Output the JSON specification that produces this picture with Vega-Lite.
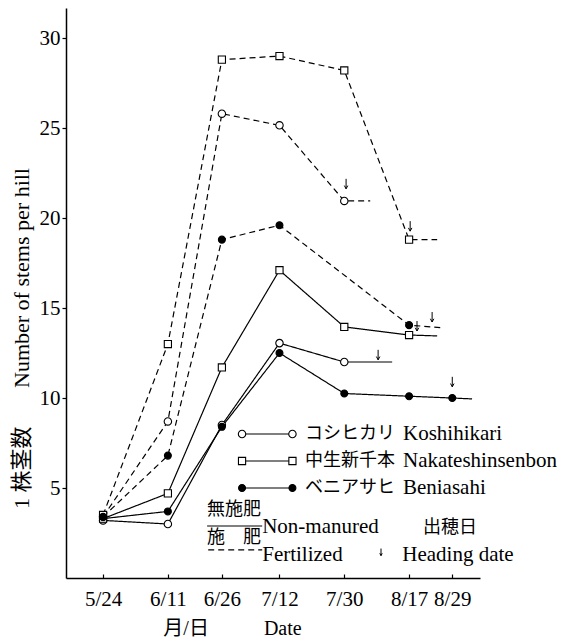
{
  "$schema": "https://vega.github.io/schema/vega-lite/v6.json",
  "autosize": "none",
  "padding": {"left": 66, "top": 8, "right": 96, "bottom": 63},
  "width": 414,
  "height": 570,
  "background": "white",
  "config": {
    "font": "Liberation Serif, Noto Sans CJK JP",
    "view": {"stroke": null},
    "axis": {
      "grid": false,
      "domainColor": "black",
      "domainWidth": 1.5,
      "tickColor": "black",
      "tickWidth": 1.2,
      "labelColor": "black",
      "labelFont": "Liberation Serif",
      "labelFontSize": 21,
      "titleColor": "black",
      "titleFont": "Liberation Serif, Noto Sans CJK JP",
      "titleFontSize": 20,
      "titleFontWeight": "normal",
      "labelFlush": false,
      "labelOverlap": false
    }
  },
  "datasets": {
    "series": [
      {"variety": "Koshihikari", "treatment": "Non-manured", "date": "5/24", "day": 0, "stems": 3.2, "kind": "obs"},
      {"variety": "Koshihikari", "treatment": "Non-manured", "date": "6/11", "day": 18, "stems": 3.0, "kind": "obs"},
      {"variety": "Koshihikari", "treatment": "Non-manured", "date": "6/26", "day": 33, "stems": 8.5, "kind": "obs"},
      {"variety": "Koshihikari", "treatment": "Non-manured", "date": "7/12", "day": 49, "stems": 13.05, "kind": "obs"},
      {"variety": "Koshihikari", "treatment": "Non-manured", "date": "7/30", "day": 67, "stems": 12.0, "kind": "obs"},
      {"variety": "Koshihikari", "treatment": "Non-manured", "day": 80.3, "stems": 12.0, "kind": "tail"},
      {"variety": "Beniasahi", "treatment": "Non-manured", "date": "5/24", "day": 0, "stems": 3.3, "kind": "obs"},
      {"variety": "Beniasahi", "treatment": "Non-manured", "date": "6/11", "day": 18, "stems": 3.7, "kind": "obs"},
      {"variety": "Beniasahi", "treatment": "Non-manured", "date": "6/26", "day": 33, "stems": 8.4, "kind": "obs"},
      {"variety": "Beniasahi", "treatment": "Non-manured", "date": "7/12", "day": 49, "stems": 12.5, "kind": "obs"},
      {"variety": "Beniasahi", "treatment": "Non-manured", "date": "7/30", "day": 67, "stems": 10.25, "kind": "obs"},
      {"variety": "Beniasahi", "treatment": "Non-manured", "date": "8/17", "day": 85, "stems": 10.1, "kind": "obs"},
      {"variety": "Beniasahi", "treatment": "Non-manured", "date": "8/29", "day": 97, "stems": 10.0, "kind": "obs"},
      {"variety": "Beniasahi", "treatment": "Non-manured", "day": 102.5, "stems": 9.95, "kind": "tail"},
      {"variety": "Nakateshinsenbon", "treatment": "Non-manured", "date": "5/24", "day": 0, "stems": 3.3, "kind": "obs"},
      {"variety": "Nakateshinsenbon", "treatment": "Non-manured", "date": "6/11", "day": 18, "stems": 4.7, "kind": "obs"},
      {"variety": "Nakateshinsenbon", "treatment": "Non-manured", "date": "6/26", "day": 33, "stems": 11.7, "kind": "obs"},
      {"variety": "Nakateshinsenbon", "treatment": "Non-manured", "date": "7/12", "day": 49, "stems": 17.1, "kind": "obs"},
      {"variety": "Nakateshinsenbon", "treatment": "Non-manured", "date": "7/30", "day": 67, "stems": 13.95, "kind": "obs"},
      {"variety": "Nakateshinsenbon", "treatment": "Non-manured", "date": "8/17", "day": 85, "stems": 13.5, "kind": "obs"},
      {"variety": "Nakateshinsenbon", "treatment": "Non-manured", "day": 92.8, "stems": 13.45, "kind": "tail"},
      {"variety": "Koshihikari", "treatment": "Fertilized", "date": "5/24", "day": 0, "stems": 3.4, "kind": "obs"},
      {"variety": "Koshihikari", "treatment": "Fertilized", "date": "6/11", "day": 18, "stems": 8.7, "kind": "obs"},
      {"variety": "Koshihikari", "treatment": "Fertilized", "date": "6/26", "day": 33, "stems": 25.8, "kind": "obs"},
      {"variety": "Koshihikari", "treatment": "Fertilized", "date": "7/12", "day": 49, "stems": 25.15, "kind": "obs"},
      {"variety": "Koshihikari", "treatment": "Fertilized", "date": "7/30", "day": 67, "stems": 20.95, "kind": "obs"},
      {"variety": "Koshihikari", "treatment": "Fertilized", "day": 74.2, "stems": 20.95, "kind": "tail"},
      {"variety": "Nakateshinsenbon", "treatment": "Fertilized", "date": "5/24", "day": 0, "stems": 3.5, "kind": "obs"},
      {"variety": "Nakateshinsenbon", "treatment": "Fertilized", "date": "6/11", "day": 18, "stems": 13.0, "kind": "obs"},
      {"variety": "Nakateshinsenbon", "treatment": "Fertilized", "date": "6/26", "day": 33, "stems": 28.8, "kind": "obs"},
      {"variety": "Nakateshinsenbon", "treatment": "Fertilized", "date": "7/12", "day": 49, "stems": 29.0, "kind": "obs"},
      {"variety": "Nakateshinsenbon", "treatment": "Fertilized", "date": "7/30", "day": 67, "stems": 28.2, "kind": "obs"},
      {"variety": "Nakateshinsenbon", "treatment": "Fertilized", "date": "8/17", "day": 85, "stems": 18.8, "kind": "obs"},
      {"variety": "Nakateshinsenbon", "treatment": "Fertilized", "day": 92.8, "stems": 18.8, "kind": "tail"},
      {"variety": "Beniasahi", "treatment": "Fertilized", "date": "5/24", "day": 0, "stems": 3.4, "kind": "obs"},
      {"variety": "Beniasahi", "treatment": "Fertilized", "date": "6/11", "day": 18, "stems": 6.8, "kind": "obs"},
      {"variety": "Beniasahi", "treatment": "Fertilized", "date": "6/26", "day": 33, "stems": 18.8, "kind": "obs"},
      {"variety": "Beniasahi", "treatment": "Fertilized", "date": "7/12", "day": 49, "stems": 19.6, "kind": "obs"},
      {"variety": "Beniasahi", "treatment": "Fertilized", "date": "8/17", "day": 85, "stems": 14.05, "kind": "obs"},
      {"variety": "Beniasahi", "treatment": "Fertilized", "day": 94.4, "stems": 13.9, "kind": "tail"}
    ],
    "heading": [
      {"variety": "Koshihikari", "treatment": "Fertilized", "day": 67.5, "stems": 21.9},
      {"variety": "Nakateshinsenbon", "treatment": "Fertilized", "day": 85.3, "stems": 19.55},
      {"variety": "Beniasahi", "treatment": "Fertilized", "day": 91.4, "stems": 14.5},
      {"variety": "Nakateshinsenbon", "treatment": "Non-manured", "day": 87.2, "stems": 14.0},
      {"variety": "Koshihikari", "treatment": "Non-manured", "day": 76.4, "stems": 12.4},
      {"variety": "Beniasahi", "treatment": "Non-manured", "day": 97, "stems": 10.9}
    ],
    "legendLines": [
      {"item": "k", "variety": "Koshihikari", "treatment": "Non-manured", "day": 38.6, "stems": 8.0},
      {"item": "k", "variety": "Koshihikari", "treatment": "Non-manured", "day": 52.6, "stems": 8.0},
      {"item": "n", "variety": "Nakateshinsenbon", "treatment": "Non-manured", "day": 38.6, "stems": 6.5},
      {"item": "n", "variety": "Nakateshinsenbon", "treatment": "Non-manured", "day": 52.6, "stems": 6.5},
      {"item": "b", "variety": "Beniasahi", "treatment": "Non-manured", "day": 38.6, "stems": 5.0},
      {"item": "b", "variety": "Beniasahi", "treatment": "Non-manured", "day": 52.6, "stems": 5.0},
      {"item": "nm", "treatment": "Non-manured", "day": 28.9, "stems": 2.89},
      {"item": "nm", "treatment": "Non-manured", "day": 44.2, "stems": 2.89},
      {"item": "f", "treatment": "Fertilized", "day": 29.2, "stems": 1.56},
      {"item": "f", "treatment": "Fertilized", "day": 44.2, "stems": 1.56}
    ],
    "legendTextJa": [
      {"day": 56.1, "stems": 8.0, "label": "コシヒカリ"},
      {"day": 56.1, "stems": 6.5, "label": "中生新千本"},
      {"day": 56.1, "stems": 5.0, "label": "ベニアサヒ"},
      {"day": 28.9, "stems": 3.78, "label": "無施肥"},
      {"day": 28.9, "stems": 2.22, "label": "施　肥"},
      {"day": 88.9, "stems": 2.78, "label": "出穂日"}
    ],
    "legendTextEn": [
      {"day": 83.3, "stems": 8.0, "label": "Koshihikari"},
      {"day": 83.3, "stems": 6.5, "label": "Nakateshinsenbon"},
      {"day": 83.3, "stems": 5.0, "label": "Beniasahi"},
      {"day": 44.2, "stems": 2.83, "label": "Non-manured"},
      {"day": 44.2, "stems": 1.28, "label": "Fertilized"},
      {"day": 83.1, "stems": 1.28, "label": "Heading date"}
    ],
    "legendArrow": [
      {"day": 77.2, "stems": 1.44}
    ]
  },
  "encoding": {
    "x": {
      "field": "day",
      "type": "quantitative",
      "scale": {"domain": [-10.3, 104.7], "nice": false, "zero": false},
      "axis": {
        "title": "月/日\u00a0\u00a0\u00a0\u00a0\u00a0\u00a0\u00a0\u00a0\u00a0\u00a0\u00a0Date",
        "values": [0, 18, 33, 49, 67, 85, 97],
        "labelExpr": "datum.value==0?'5/24':datum.value==18?'6/11':datum.value==33?'6/26':datum.value==49?'7/12':datum.value==67?'7/30':datum.value==85?'8/17':'8/29'",
        "tickSize": -4,
        "labelPadding": 14,
        "labelBaseline": "top",
        "titleX": 166,
        "titleY": 50,
        "titleAlign": "center",
        "titleBaseline": "middle"
      }
    },
    "y": {
      "field": "stems",
      "type": "quantitative",
      "scale": {"domain": [0, 31.67], "nice": false},
      "axis": {
        "title": "1\u00a0株茎数\u3000\u00a0\u00a0\u00a0Number of stems per hill",
        "titleFontSize": 22,
        "values": [5, 10, 15, 20, 25, 30],
        "tickSize": 4,
        "labelPadding": 2,
        "titleX": -45,
        "titleY": 330,
        "titleAngle": -90,
        "titleAlign": "center",
        "titleBaseline": "middle"
      }
    }
  },
  "layer": [
    {
      "data": {"name": "series"},
      "mark": {"type": "line", "color": "black", "strokeWidth": 1.2},
      "encoding": {
        "detail": [{"field": "variety"}, {"field": "treatment"}],
        "strokeDash": {
          "field": "treatment",
          "type": "nominal",
          "scale": {"domain": ["Non-manured", "Fertilized"], "range": [[1, 0], [6, 4]]},
          "legend": null
        }
      }
    },
    {
      "data": {"name": "series"},
      "transform": [{"filter": "datum.kind == 'obs'"}],
      "mark": {"type": "point", "filled": true, "stroke": "black", "strokeWidth": 1.1, "opacity": 1},
      "encoding": {
        "shape": {
          "field": "variety",
          "type": "nominal",
          "scale": {"domain": ["Koshihikari", "Nakateshinsenbon", "Beniasahi"], "range": ["circle", "square", "circle"]},
          "legend": null
        },
        "fill": {
          "field": "variety",
          "type": "nominal",
          "scale": {"domain": ["Koshihikari", "Nakateshinsenbon", "Beniasahi"], "range": ["white", "white", "black"]},
          "legend": null
        },
        "size": {
          "field": "variety",
          "type": "nominal",
          "scale": {"domain": ["Koshihikari", "Nakateshinsenbon", "Beniasahi"], "range": [55, 48, 32]},
          "legend": null
        }
      }
    },
    {
      "data": {"name": "heading"},
      "mark": {"type": "point", "shape": "M0,-1L0,1M-0.35,0.35L0,1L0.35,0.35", "filled": false, "stroke": "black", "strokeWidth": 1, "size": 100, "opacity": 1}
    },
    {
      "data": {"name": "legendLines"},
      "mark": {"type": "line", "color": "black", "strokeWidth": 1.2},
      "encoding": {
        "detail": {"field": "item"},
        "strokeDash": {"field": "treatment", "type": "nominal", "legend": null}
      }
    },
    {
      "data": {"name": "legendLines"},
      "transform": [{"filter": "isValid(datum.variety)"}],
      "mark": {"type": "point", "filled": true, "stroke": "black", "strokeWidth": 1.1, "opacity": 1},
      "encoding": {
        "shape": {"field": "variety", "type": "nominal", "legend": null},
        "fill": {"field": "variety", "type": "nominal", "legend": null},
        "size": {"field": "variety", "type": "nominal", "legend": null}
      }
    },
    {
      "data": {"name": "legendTextJa"},
      "mark": {"type": "text", "align": "left", "baseline": "middle", "font": "Liberation Serif, Noto Sans CJK JP", "fontSize": 18, "color": "black"},
      "encoding": {"text": {"field": "label"}}
    },
    {
      "data": {"name": "legendTextEn"},
      "mark": {"type": "text", "align": "left", "baseline": "middle", "font": "Liberation Serif", "fontSize": 21, "color": "black"},
      "encoding": {"text": {"field": "label"}}
    },
    {
      "data": {"name": "legendArrow"},
      "mark": {"type": "point", "shape": "M0,-1L0,1M-0.35,0.35L0,1L0.35,0.35", "filled": false, "stroke": "black", "strokeWidth": 1, "size": 50, "opacity": 1}
    }
  ]
}
